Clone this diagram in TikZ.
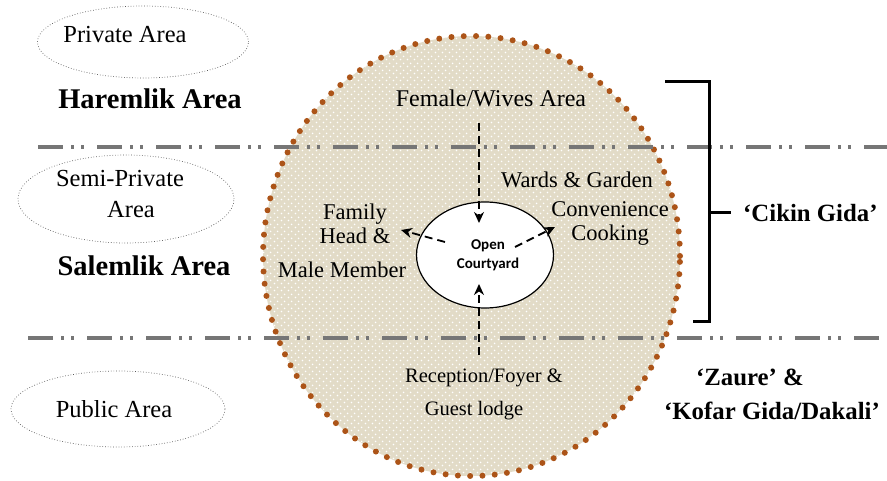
\documentclass[tikz,border=0pt]{standalone}
\usepackage{fontspec}
\setmainfont{Liberation Serif}
\newfontfamily\courtfont{Carlito}
\usepackage{tikz}
\usetikzlibrary{arrows.meta,positioning,calc,shapes.geometric,patterns.meta}
\definecolor{sandfill}{RGB}{226,219,199}
\definecolor{dotbrown}{RGB}{172,84,24}
\definecolor{zonegray}{RGB}{118,118,118}
\tikzdeclarepattern{name=sanddots,type=uncolored,
  bounding box={(0pt,0pt) and (7pt,7pt)},tile size={(7pt,7pt)},
  code={\fill (1.75pt,1.75pt) circle (1pt); \fill (5.25pt,5.25pt) circle (1pt);}}
\tikzstyle{zone}=[draw=black!65,dotted,line width=0.7pt,ellipse,inner sep=0pt]
\tikzstyle{lbl}=[inner sep=0pt,align=center,font=\fontsize{22.5}{24}\selectfont]
\tikzstyle{bigtxt}=[inner sep=0pt,font=\fontsize{24.5}{31}\selectfont,align=center]
\tikzstyle{head}=[inner sep=0pt,font=\bfseries\fontsize{28.5}{30}\selectfont]
\tikzstyle{local}=[inner sep=0pt,font=\bfseries\fontsize{24.8}{26}\selectfont]
\tikzstyle{split}=[draw=zonegray,line width=4pt,dash pattern=on 25pt off 8pt on 3pt off 7pt on 3pt off 13pt]
\tikzstyle{flow}=[line width=1.8pt,dash pattern=on 8pt off 5pt,-{Stealth[length=11pt,width=10pt]}]
\tikzstyle{bracket}=[line width=3pt]

\begin{document}
\begin{tikzpicture}[x=1pt,y=-1pt]
\useasboundingbox (0,0) rectangle (887,481);
% compound outline
\node [ellipse,minimum width=417pt,minimum height=440pt,inner sep=0pt,
  preaction={fill=sandfill},pattern={sanddots},pattern color=white,
  draw=dotbrown,line width=6pt,line cap=round,dash pattern=on 0pt off 12.3pt] (house) at (471.5,256) {};
% zones on the left
\node [zone,minimum width=211pt,minimum height=72pt] (privzone) at (143,42) {};
\node [bigtxt] (priv) at (125,35) {Private Area};
\node [head] (harem) at (150,99) {Haremlik Area};
\node [zone,minimum width=216pt,minimum height=88pt] (semizone) at (126,199) {};
\node [bigtxt] (semi) at (120,179) {Semi-Private};
\node [bigtxt] (semiarea) at (131,210) {Area};
\node [head] (salem) at (144,266) {Salemlik Area};
\node [zone,minimum width=214pt,minimum height=76pt] (pubzone) at (118,409) {};
\node [bigtxt] (pub) at (114,409) {Public Area};
% dividing lines
\coordinate (hl) at (38,147);
\coordinate (hr) at (887,147);
\coordinate (sl) at (28,338);
\coordinate (sr) at (887,338);
\draw [split] (hl) -- (hr);
\draw [split] (sl) -- (sr);
% courtyard
\node [ellipse,draw,fill=white,line width=1.2pt,minimum width=137pt,minimum height=106pt,inner sep=0pt] (court) at (485,255) {};
\node [inner sep=0pt,align=center,font=\courtfont\bfseries\fontsize{15}{19}\selectfont] (courttxt) at (488,255) {Open\\Courtyard};
% rooms
\node [lbl,font=\fontsize{24}{26}\selectfont] (wives) at (491,98) {Female/Wives Area};
\node [lbl] (wards) at (577,180) {Wards \& Garden};
\node [lbl] (cook) at (610,223) {Convenience\\Cooking};
\node [lbl] (family) at (355,224) {Family\\Head \&};
\node [lbl] (male) at (342,270) {Male Member};
\node [lbl,font=\fontsize{20.5}{22}\selectfont] (recep) at (484,378) {Reception/Foyer \&};
\node [lbl,font=\fontsize{20.5}{22}\selectfont] (guest) at (474,411) {Guest lodge};
% movement
\coordinate (tops) at (479,123);
\coordinate (topt) at (479,223);
\coordinate (bots) at (479,355);
\coordinate (bott) at (479,284);
\coordinate (lefts) at (445,242);
\coordinate (leftt) at (401,230);
\coordinate (rights) at (515,247);
\coordinate (rightt) at (555,227);
\draw [flow] (tops) -- (topt);
\draw [flow] (bots) -- (bott);
\draw [flow] (lefts) -- (leftt);
\draw [flow] (rights) -- (rightt);
% hausa names
\coordinate (bt) at (665,82);
\coordinate (bb) at (693,322);
\coordinate (bm) at (731,213);
\draw [bracket] (bt) -| ([xshift=-22pt]bm |- bb) -- (bb);
\draw [bracket] ([xshift=-22pt]bm) -- (bm);
\node [local,right=12pt of bm] (cikin) {‘Cikin Gida’};
\node [local] (zaure) at (750,377) {‘Zaure’ \&};
\node [local] (kofar) at (772,411) {‘Kofar Gida/Dakali’};
\end{tikzpicture}
\end{document}
